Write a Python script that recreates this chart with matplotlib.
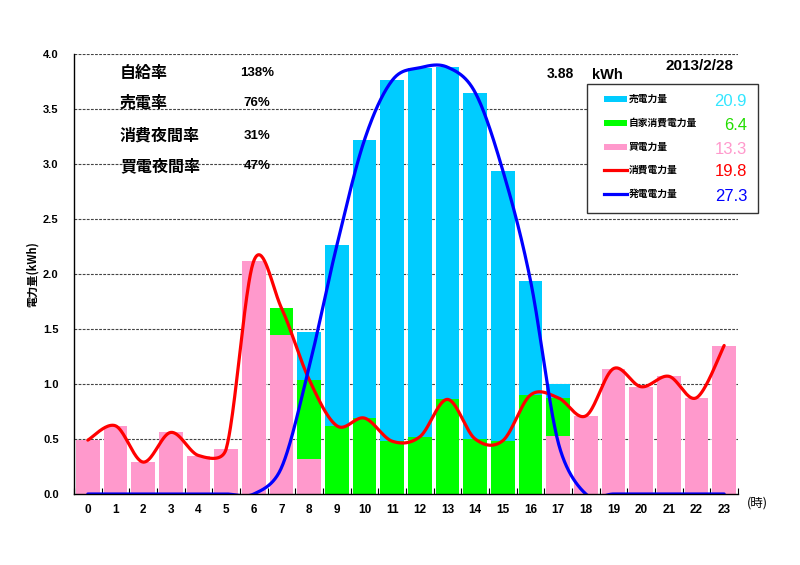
import matplotlib
matplotlib.use("Agg")
import matplotlib.pyplot as plt
import numpy as np
from matplotlib.patches import Rectangle
from matplotlib.lines import Line2D

plt.rcParams['font.family'] = ['Noto Sans CJK JP', 'DejaVu Sans']

# ---- data ----
hours = list(range(24))
hour_labels = [str(h) for h in hours]
buy = [0.49, 0.62, 0.29, 0.56, 0.35, 0.41, 2.12, 1.45, 0.32, 0, 0, 0, 0, 0, 0, 0, 0,
       0.53, 0.71, 1.14, 0.975, 1.07, 0.875, 1.35]
self_use = [0, 0, 0, 0, 0, 0, 0, 0.24, 0.72, 0.62, 0.69, 0.48, 0.52, 0.86, 0.50, 0.485,
            0.90, 0.345, 0, 0, 0, 0, 0, 0]
sell = [0, 0, 0, 0, 0, 0, 0, 0, 0.435, 1.64, 2.53, 3.28, 3.355, 3.02, 3.15, 2.455,
        1.04, 0.125, 0, 0, 0, 0, 0, 0]
legend_names = ['売電力量', '自家消費電力量', '買電力量', '消費電力量', '発電電力量']
legend_values = ['20.9', '6.4', '13.3', '19.8', '27.3']
stat_names = ['自給率', '売電率', '消費夜間率', '買電夜間率']
stat_values = ['138%', '76%', '31%', '47%']
peak_text = '3.88'
date_text = '2013/2/28'

C_SELL = '#00ccff'
C_SELF = '#00ff00'
C_BUY = '#ff99cc'
C_CONS = '#ff0000'
C_GEN = '#0000ff'
VAL_COLORS = ['#33e6ff', '#22dd00', '#ff99cc', '#ff0000', '#0000ff']

W, H = 800, 565
L, R, T, B = 74, 738, 54, 494
XMIN, XMAX, YMIN, YMAX = -0.5, 23.5, 0.0, 4.0
SX = (R - L) / (XMAX - XMIN)
SY = (B - T) / (YMAX - YMIN)


def smooth(xs, ys, n=40):
    """Excel-like smoothed line: Bezier segments, tangent (P2-P0)/6 with control
    distance capped at half the adjacent chord (screen pixel units)."""
    P = np.column_stack([np.asarray(xs, float) * SX, np.asarray(ys, float) * SY])
    m = len(P)
    back = [None] * m
    ahead = [None] * m
    for i in range(m):
        if i == 0 or i == m - 1:
            continue
        p0, p1, p2 = P[i - 1], P[i], P[i + 1]
        d01 = np.linalg.norm(p1 - p0)
        d12 = np.linalg.norm(p2 - p1)
        d02 = np.linalg.norm(p2 - p0)
        fb = min(1 / 6, d01 / (2 * d02)) if d02 > 0 else 0
        fa = min(1 / 6, d12 / (2 * d02)) if d02 > 0 else 0
        back[i] = p1 - fb * (p2 - p0)
        ahead[i] = p1 + fa * (p2 - p0)
    t = np.linspace(0, 1, n)[:, None]
    out = []
    for i in range(m - 1):
        p1, p2 = P[i], P[i + 1]
        c1 = ahead[i] if ahead[i] is not None else p1 + (p2 - p1) / 6
        c2 = back[i + 1] if back[i + 1] is not None else p2 - (p2 - p1) / 6
        seg = ((1 - t) ** 3) * p1 + 3 * ((1 - t) ** 2) * t * c1 + 3 * (1 - t) * t ** 2 * c2 + t ** 3 * p2
        out.append(seg if i == 0 else seg[1:])
    out = np.vstack(out)
    return out[:, 0] / SX, out[:, 1] / SY


fig = plt.figure(figsize=(W / 100, H / 100), dpi=100)
ax = fig.add_axes([L / W, 1 - B / H, (R - L) / W, (B - T) / H])

x = np.array(hours)
buy_a = np.array(buy)
self_a = np.array(self_use)
sell_a = np.array(sell)
bw = 0.85
ax.bar(x, buy_a, bw, color=C_BUY, zorder=2)
ax.bar(x, self_a, bw, bottom=buy_a, color=C_SELF, zorder=2)
ax.bar(x, sell_a, bw, bottom=buy_a + self_a, color=C_SELL, zorder=2)

cons = buy_a + self_a
gen = self_a + sell_a
sx, sy = smooth(x, cons)
ax.plot(sx, sy, color=C_CONS, lw=2.3, zorder=4, solid_capstyle='round')
gx, gy = smooth(x, gen)
ax.plot(gx, gy, color=C_GEN, lw=2.3, zorder=4, solid_capstyle='round')

ax.set_xlim(XMIN, XMAX)
ax.set_ylim(YMIN, YMAX)
ax.set_yticks(np.arange(0, 4.01, 0.5))
ax.set_yticklabels([f'{v:.1f}' for v in np.arange(0, 4.01, 0.5)],
                   fontfamily='Liberation Sans', fontweight='bold', fontsize=8)
ax.set_xticks(x)
ax.set_xticklabels(hour_labels, fontfamily='Liberation Sans', fontweight='bold', fontsize=8.5)
ax.set_xticks(np.arange(-0.5, 23.6, 1), minor=True)
ax.tick_params(axis='x', which='major', length=0, pad=7)
ax.tick_params(axis='x', which='minor', length=4, direction='in', width=0.8)
ax.tick_params(axis='y', length=0, pad=11)
for yv in np.arange(0.5, 4.01, 0.5):
    ax.axhline(yv, color='#444444', lw=0.8, ls=(0, (2.5, 1.2)), zorder=1)
for s in ['top', 'right']:
    ax.spines[s].set_visible(False)
ax.spines['left'].set_linewidth(1.0)
ax.spines['bottom'].set_linewidth(1.0)
ax.spines['bottom'].set_zorder(5)

ax.set_ylabel('電力量(kWh)', fontsize=8, fontweight='bold', labelpad=3)


def fx(px):
    return px / W


def fy(py):
    return 1 - py / H


fig.text(fx(757), fy(503), '(時)', fontsize=9, ha='center', va='center')

stat_y = [73, 103, 136, 166]
for name, val, yy in zip(stat_names, stat_values, stat_y):
    fig.text(fx(120), fy(yy), name, fontsize=11.5, fontweight='bold', ha='left', va='center')
    fig.text(fx(257), fy(yy), val, fontsize=9.5, fontweight='bold', ha='center', va='center',
             fontfamily='Liberation Sans')

fig.text(fx(560), fy(74), peak_text, fontsize=10, fontweight='bold', ha='center', va='center',
         fontfamily='Liberation Sans')
fig.text(fx(607), fy(75), 'kWh', fontsize=10.5, fontweight='bold', ha='center', va='center',
         fontfamily='Liberation Sans')
fig.text(fx(700), fy(66), date_text, fontsize=11, fontweight='bold', ha='center', va='center',
         fontfamily='Liberation Sans')

# legend box
fig.add_artist(Rectangle((fx(587), fy(213)), (758 - 587) / W, (213 - 84) / H,
                         transform=fig.transFigure, facecolor='white', edgecolor='#333333',
                         lw=1.0, zorder=10))
ent_y = [99, 123, 147, 170, 194]
for i, (name, val, yy, vc) in enumerate(zip(legend_names, legend_values, ent_y, VAL_COLORS)):
    if i < 3:
        col = [C_SELL, C_SELF, C_BUY][i]
        fig.add_artist(Rectangle((fx(604), fy(yy + 3)), 23 / W, 6 / H, transform=fig.transFigure,
                                 facecolor=col, edgecolor='none', zorder=11))
    else:
        col = [C_CONS, C_GEN][i - 3]
        fig.add_artist(Line2D([fx(604), fx(627)], [fy(yy), fy(yy)], transform=fig.transFigure,
                              color=col, lw=2.3, zorder=11))
    fig.text(fx(629), fy(yy), name, fontsize=7, fontweight='bold', ha='left', va='center', zorder=12)
    fig.text(fx(747), fy(yy + 2), val, fontsize=12, ha='right', va='center', color=vc,
             fontfamily='Liberation Sans', zorder=12)

fig.savefig('out.png', dpi=100)
